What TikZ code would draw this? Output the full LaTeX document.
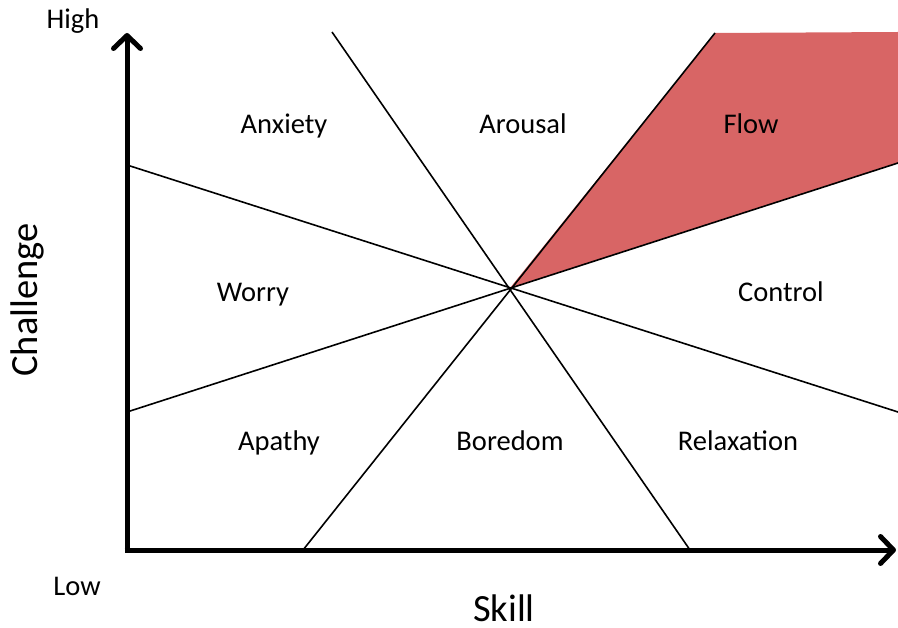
\documentclass[tikz,border=0pt]{standalone}
\usepackage{fontspec}
\setmainfont{Carlito}
\usetikzlibrary{arrows.meta}
\definecolor{flowred}{RGB}{216,101,101}
\begin{document}
\begin{tikzpicture}[x=1pt,y=-1pt,
    region/.style={font=\fontsize{28.5}{34}\selectfont,anchor=base,inner sep=0pt},
    axislabel/.style={font=\fontsize{38.5}{46}\selectfont,inner sep=0pt},
    axisline/.style={line width=5pt,-{Straight Barb[length=13pt,width=27pt,line cap=round,line join=round]}},
    divider/.style={line width=1.6pt}]
\useasboundingbox (0,0) rectangle (898,628);
% points
\coordinate (origin) at (127,550);
\coordinate (ytop) at (127,33);
\coordinate (xend) at (896,550);
\coordinate (mid) at (510,288);
\coordinate (a1) at (332,32);  \coordinate (a2) at (690,550);
\coordinate (b1) at (127,165); \coordinate (b2) at (898,412);
\coordinate (c1) at (127,412); \coordinate (c2) at (898,163);
\coordinate (d1) at (303,550); \coordinate (d2) at (715,33);
\coordinate (corner) at (898,32);
% flow channel
\fill[flowred] (mid) -- (d2) -- (corner) -- (c2) -- cycle;
% dividing lines
\draw[divider] (a1) -- (a2);
\draw[divider] (b1) -- (b2);
\draw[divider] (c1) -- (c2);
\draw[divider] (d1) -- (d2);
% axes
\draw[axisline] (origin) -- (ytop);
\draw[axisline] ([xshift=-2.5pt]origin) -- (xend);
% regions
\node[region] (anxiety) at (284,134) {Anxiety};
\node[region] (arousal) at (523,134) {Arousal};
\node[region] (flow) at (751,134) {Flow};
\node[region] (worry) at (253,302) {Worry};
\node[region] (control) at (781,302) {Control};
\node[region] (apathy) at (279,451) {Apathy};
\node[region] (boredom) at (510,451) {Boredom};
\node[region] (relax) at (738,451) {Relaxation};
% axis labels
\node[region] (high) at (73,29) {High};
\node[region] (low) at (77,595) {Low};
\node[axislabel,anchor=base] (skill) at (504,621) {Skill};
\node[axislabel,rotate=90] (challenge) at (27,300) {Challenge};
\end{tikzpicture}
\end{document}
